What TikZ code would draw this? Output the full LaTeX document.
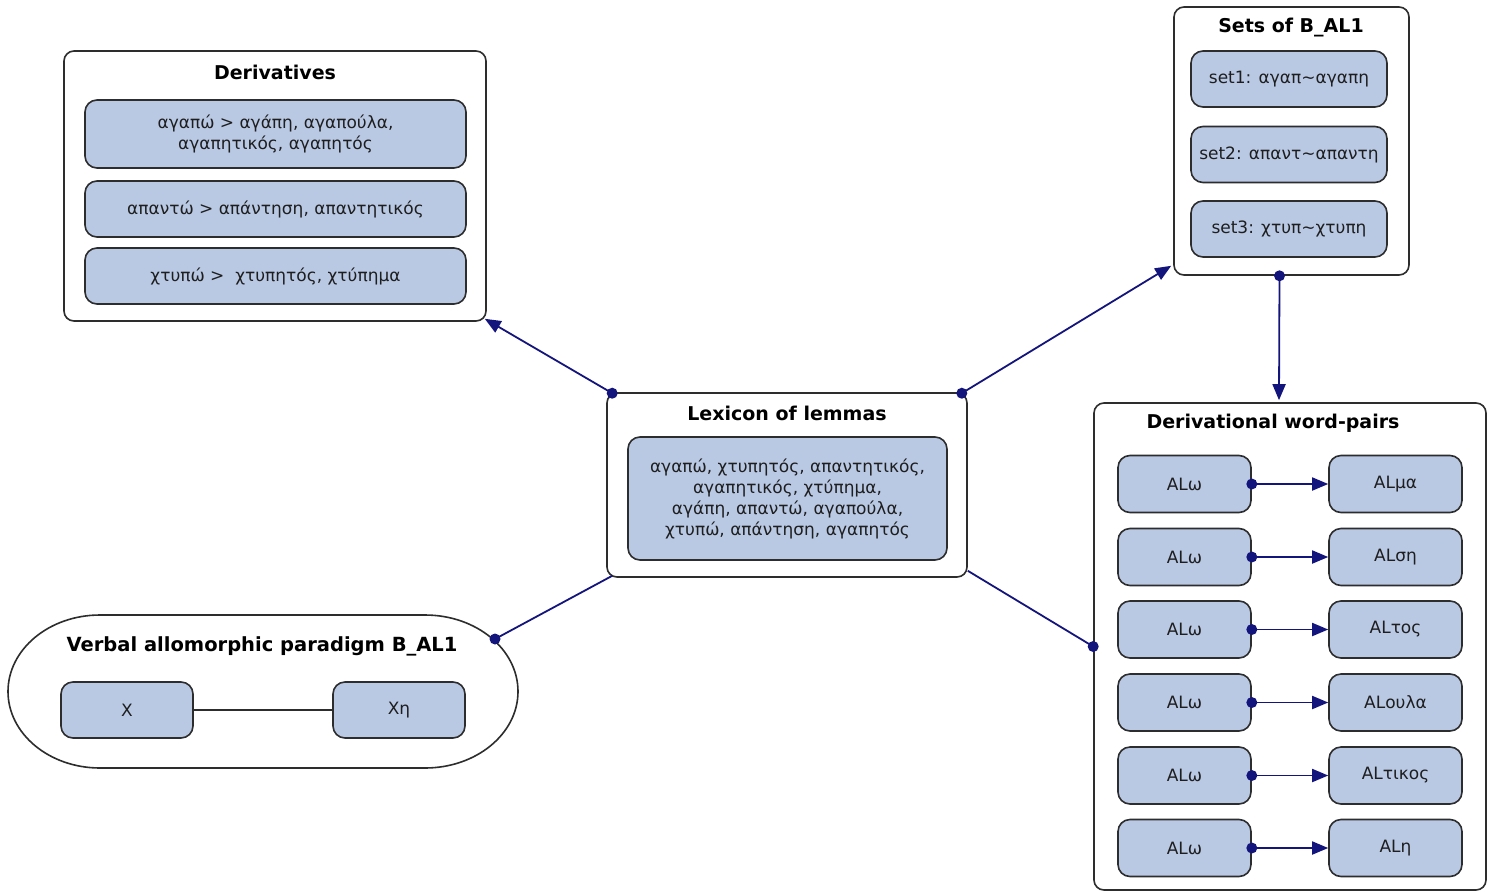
\documentclass[tikz,border=0pt]{standalone}
\usepackage{fontspec}
\setmainfont{DejaVu Sans}
\usetikzlibrary{arrows.meta,calc}
\definecolor{boxfill}{RGB}{185,201,228}
\definecolor{edgecol}{RGB}{20,20,125}
\definecolor{framecol}{RGB}{45,45,45}
\definecolor{textcol}{RGB}{30,30,30}
\tikzset{
  container/.style={draw=framecol, line width=1.6pt, fill=white, rounded corners=10pt, inner sep=0pt},
  item/.style={draw=framecol, line width=1.6pt, fill=boxfill, rounded corners=12pt, align=center,
    text=textcol, font=\fontsize{17}{21}\selectfont, inner sep=0pt},
  heading/.style={text=black, font=\bfseries\fontsize{19}{23}\selectfont, inner sep=0pt},
  link/.style={draw=edgecol, line width=1.8pt},
  tipped/.style={link, -{Triangle[length=16pt,width=13pt]}},
  plain/.style={draw=framecol, line width=1.6pt},
  knob/.style={fill=edgecol},
}
\begin{document}
\begin{tikzpicture}[x=1pt,y=-1pt]
\fill[white] (0,0) rectangle (1489,892);
\useasboundingbox (0,0) rectangle (1489,892);

% Derivatives
\node[container, minimum width=422pt, minimum height=270pt] (der) at (275,186) {};
\node[heading] (derT) at (275,72) {Derivatives};
\node[item, minimum width=381pt, minimum height=68pt] (der1) at (275.5,134) {αγαπώ > αγάπη, αγαπούλα,\\αγαπητικός, αγαπητός};
\node[item, minimum width=381pt, minimum height=56pt] (der2) at (275.5,209) {απαντώ > απάντηση, απαντητικός};
\node[item, minimum width=381pt, minimum height=56pt] (der3) at (275.5,276) {χτυπώ > \ χτυπητός, χτύπημα};

% Sets of B_AL1
\node[container, minimum width=235pt, minimum height=268pt] (sets) at (1291.5,141) {};
\node[heading] (setsT) at (1291,28) {Sets of B\_AL1};
\node[item, minimum width=196pt, minimum height=56pt] (set1) at (1289,79) {set1: αγαπ\textasciitilde αγαπη};
\node[item, minimum width=196pt, minimum height=56pt] (set2) at (1289,154.5) {set2: απαντ\textasciitilde απαντη};
\node[item, minimum width=196pt, minimum height=56pt] (set3) at (1289,229) {set3: χτυπ\textasciitilde χτυπη};

% Lexicon of lemmas
\node[container, minimum width=360pt, minimum height=184pt] (lex) at (787,485) {};
\node[heading] (lexT) at (787,413) {Lexicon of lemmas};
\node[item, minimum width=319pt, minimum height=123pt] (lexI) at (787.5,498.5)
  {αγαπώ, χτυπητός, απαντητικός,\\αγαπητικός, χτύπημα,\\αγάπη, απαντώ, αγαπούλα,\\χτυπώ, απάντηση, αγαπητός};

% Verbal allomorphic paradigm
\draw[plain, fill=white] (100,615) -- (425,615)
  arc[start angle=90, end angle=-90, x radius=93, y radius=-76.5] -- (100,768)
  arc[start angle=270, end angle=90, x radius=92, y radius=-76.5] -- cycle;
\coordinate (verb) at (262,691.5);
\node[heading, font=\bfseries\fontsize{19.5}{23}\selectfont] (verbT) at (262,646) {Verbal allomorphic paradigm B\_AL1};
\node[item, minimum width=132pt, minimum height=56pt] (vx) at (127,710) {X};
\node[item, minimum width=132pt, minimum height=56pt] (vxh) at (399,710) {Xη};
\draw[plain] (vx.east) -- (vxh.west);
\coordinate (verbDot) at (495,639);

% Derivational word-pairs
\node[container, minimum width=392pt, minimum height=487pt] (dwp) at (1290,646.5) {};
\node[heading] (dwpT) at (1273,423) {Derivational word-pairs};
\foreach \i/\yy/\suf in {1/484/μα, 2/557/ση, 3/629.5/τος, 4/702.5/ουλα, 5/775.5/τικος, 6/848/η}{
  \node[item, minimum width=133pt, minimum height=57pt] (wl\i) at (1184.5,\yy) {ALω};
  \node[item, minimum width=133pt, minimum height=57pt] (wr\i) at (1395.5,\yy) {AL\suf};
  \draw[tipped] (wl\i.east) -- (wr\i.west);
  \fill[knob] (wl\i.east) circle (5.5pt);
}

% Links between the groups
\coordinate (lexNW) at ($(lex.north west)+(6,1)$);
\coordinate (lexNE) at ($(lex.north east)+(-6,1)$);
\coordinate (lexSW) at ($(lex.south west)+(6,-2)$);
\coordinate (lexSE) at ($(lex.south east)+(0,-7)$);
\coordinate (derEnd) at ($(der.south east)+(-2,-3)$);
\coordinate (setsEnd) at ($(sets.south west)+(-2,-10)$);
\coordinate (setsDot) at ($(sets.south)+(-12,0)$);
\coordinate (dwpEnd) at ($(dwp.north)+(-11,-2)$);

\draw[tipped] (lexNW) -- (derEnd);
\fill[knob] (lexNW) circle (5.5pt);
\draw[tipped] (lexNE) -- (setsEnd);
\fill[knob] (lexNE) circle (5.5pt);
\draw[tipped] (setsDot) -- (dwpEnd);
\fill[knob] (setsDot) circle (5.5pt);
\draw[link] (lexSW) -- (verbDot);
\fill[knob] (verbDot) circle (5.5pt);
\draw[link] (lexSE) -- (dwp.west);
\fill[knob] (dwp.west) circle (5.5pt);
\end{tikzpicture}
\end{document}
